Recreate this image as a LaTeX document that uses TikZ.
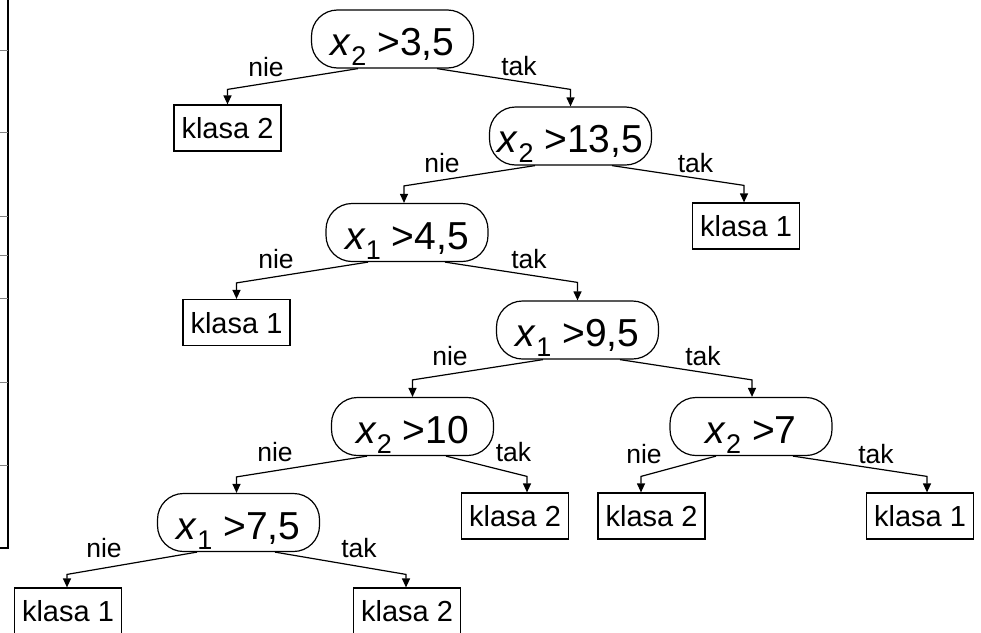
\documentclass[tikz,border=0pt]{standalone}
\usepackage{fontspec}
\setmainfont{Liberation Sans}
\usetikzlibrary{arrows.meta}
\newcommand\xsub[1]{\textit{x}\raisebox{-10pt}{\fontsize{27}{29}\selectfont #1}}
\begin{document}
\begin{tikzpicture}[x=1pt,y=-1pt,
  cond/.style={draw, line width=1.2pt, rounded corners=26pt, minimum width=162pt, minimum height=58pt, inner sep=0pt, text height=33pt, text depth=0pt, font=\fontsize{39}{42}\selectfont},
  leaf/.style={draw, line width=1.2pt, minimum width=107pt, minimum height=46pt, inner sep=0pt, text height=21pt, text depth=0pt, font=\fontsize{29}{32}\selectfont},
  lbl/.style={anchor=base, inner sep=0pt, font=\fontsize{26.5}{29}\selectfont},
  arr/.style={line width=1.2pt, -{Triangle[length=9pt,width=8pt]}},
]
\useasboundingbox (0,0) rectangle (981,632);
% left artifact
\draw[line width=1.2pt] (8,0) -- (8,548) -- (0,548);
\foreach \yy in {50,132,216,255,298,382,465} \draw[gray, line width=1pt] (0,\yy) -- (8,\yy);

% nodes
\node[cond] (r1) at (392.5,39) {\xsub{2} >3,5};
\node[leaf] (ka) at (227.5,128) {klasa 2};
\node[cond] (r2) at (570.5,136) {\xsub{2} >13,5};
\node[leaf] (kb) at (746,226) {klasa 1};
\node[cond] (r3) at (407,232.5) {\xsub{1} >4,5};
\node[leaf] (kc) at (236.5,322.5) {klasa 1};
\node[cond] (r4) at (577.5,330) {\xsub{1} >9,5};
\node[cond] (r5) at (412.5,426.5) {\xsub{2} >10};
\node[cond] (r6) at (751,426.5) {\xsub{2} >7};
\node[leaf] (kd) at (515,516) {klasa 2};
\node[leaf] (ke) at (651.5,516) {klasa 2};
\node[leaf] (kf) at (920,516) {klasa 1};
\node[cond] (r7) at (238.5,522.5) {\xsub{1} >7,5};
\node[leaf] (kg) at (68,611) {klasa 1};
\node[leaf] (kh) at (407,611) {klasa 2};

% edges
\draw[arr] ([xshift=-34.5pt]r1.south) -- ([yshift=15pt]ka.north) -- (ka.north);
\draw[arr] ([xshift=44.5pt]r1.south) -- ([yshift=17pt]r2.north) -- (r2.north);
\draw[arr] ([xshift=-35.5pt]r2.south) -- ([xshift=-3pt,yshift=17pt]r3.north) -- ([xshift=-3pt]r3.north);
\draw[arr] ([xshift=41.5pt]r2.south) -- ([xshift=-2pt,yshift=17pt]kb.north) -- ([xshift=-2pt]kb.north);
\draw[arr] ([xshift=-39pt]r3.south) -- ([yshift=16pt]kc.north) -- (kc.north);
\draw[arr] ([xshift=38pt]r3.south) -- ([yshift=18pt]r4.north) -- (r4.north);
\draw[arr] ([xshift=-34.5pt]r4.south) -- ([yshift=17pt]r5.north) -- (r5.north);
\draw[arr] ([xshift=42.5pt]r4.south) -- ([xshift=1pt,yshift=17pt]r6.north) -- ([xshift=1pt]r6.north);
\draw[arr] ([xshift=-45.5pt]r5.south) -- ([xshift=-2pt,yshift=16pt]r7.north) -- ([xshift=-2pt]r7.north);
\draw[arr] ([xshift=33.5pt]r5.south) -- ([xshift=12pt,yshift=16pt]kd.north) -- ([xshift=12pt]kd.north);
\draw[arr] ([xshift=-35pt]r6.south) -- ([xshift=-10.5pt,yshift=16pt]ke.north) -- ([xshift=-10.5pt]ke.north);
\draw[arr] ([xshift=42pt]r6.south) -- ([xshift=7pt,yshift=16pt]kf.north) -- ([xshift=7pt]kf.north);
\draw[arr] ([xshift=-41.5pt]r7.south) -- ([xshift=-1pt,yshift=13pt]kg.north) -- ([xshift=-1pt]kg.north);
\draw[arr] ([xshift=36.5pt]r7.south) -- ([xshift=-1pt,yshift=13pt]kh.north) -- ([xshift=-1pt]kh.north);

% labels
\node[lbl] (n1) at (266,76) {nie};
\node[lbl] (t1) at (519,75) {tak};
\node[lbl] (n2) at (442,172) {nie};
\node[lbl] (t2) at (695.5,172) {tak};
\node[lbl] (n3) at (276,268) {nie};
\node[lbl] (t3) at (529,268) {tak};
\node[lbl] (n4) at (450,365) {nie};
\node[lbl] (t4) at (703,365) {tak};
\node[lbl] (n5) at (275,461) {nie};
\node[lbl] (t5) at (513.5,461) {tak};
\node[lbl] (n6) at (644,463) {nie};
\node[lbl] (t6) at (876,463) {tak};
\node[lbl] (n7) at (104,557) {nie};
\node[lbl] (t7) at (359,557) {tak};
\end{tikzpicture}
\end{document}
